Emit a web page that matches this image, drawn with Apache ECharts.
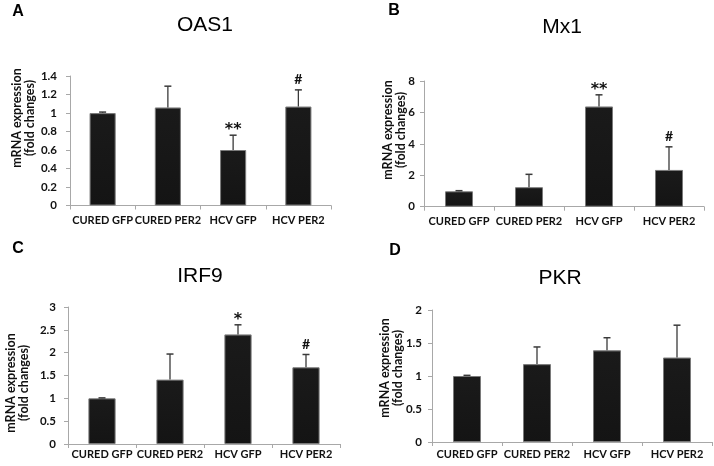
<!DOCTYPE html>
<html>
<head>
<meta charset="utf-8">
<script src="https://cdn.jsdelivr.net/npm/echarts@6/dist/echarts.min.js"></script>
<style>
html,body{margin:0;padding:0;background:#fff;}
#main{width:714px;height:466px;}
</style>
</head>
<body>
<div id="main"></div>
<script>
// ---- data ----
const categories = ['CURED GFP', 'CURED PER2', 'HCV GFP', 'HCV PER2'];

const oas1Mean = [1.00, 1.06, 0.60, 1.07];
const oas1Err  = [0.01, 0.23, 0.16, 0.18];
const oas1Marks = ['', '', '**', '#'];

const mx1Mean = [0.98, 1.24, 6.38, 2.34];
const mx1Err  = [0.04, 0.82, 0.74, 1.47];
const mx1Marks = ['', '', '**', '#'];

const irf9Mean = [1.00, 1.41, 2.40, 1.68];
const irf9Err  = [0.01, 0.56, 0.21, 0.28];
const irf9Marks = ['', '', '*', '#'];

const pkrMean = [1.00, 1.18, 1.39, 1.28];
const pkrErr  = [0.01, 0.26, 0.19, 0.49];
const pkrMarks = ['', '', '', ''];

const titles = ['OAS1', 'Mx1', 'IRF9', 'PKR'];
const letters = ['A', 'B', 'C', 'D'];
const yMax = [1.4, 8, 3, 2];
const yInterval = [0.2, 2, 0.5, 0.5];
const yName1 = 'mRNA expression';
const yName2 = '(fold changes)';

// ---- layout ----
const panels = [
  {mean: oas1Mean, err: oas1Err, marks: oas1Marks, grid: {left: 70, top: 76, width: 261, height: 129.5}, labelMargin: 9, tickMargin: 13,
   title: [205, 25], letter: [18, 12], yname: [17, 30, 118]},
  {mean: mx1Mean, err: mx1Err, marks: mx1Marks, grid: {left: 424, top: 81, width: 280, height: 125.7}, labelMargin: 9, tickMargin: 9,
   title: [562, 27], letter: [394, 11], yname: [388, 401, 130]},
  {mean: irf9Mean, err: irf9Err, marks: irf9Marks, grid: {left: 68, top: 307, width: 272, height: 137}, labelMargin: 5, tickMargin: 12,
   title: [200, 276], letter: [18, 249], yname: [11, 24, 383]},
  {mean: pkrMean, err: pkrErr, marks: pkrMarks, grid: {left: 432, top: 310, width: 280, height: 132}, labelMargin: 7, tickMargin: 10,
   title: [560, 278], letter: [395, 251], yname: [385, 398, 368]}
];

const FONT = 'Lato, "Open Sans", sans-serif';
const axisColor = '#a8a8a8';

const grids = [], xAxes = [], yAxes = [], series = [], graphics = [];

panels.forEach((p, k) => {
  grids.push(Object.assign({containLabel: false}, p.grid));
  xAxes.push({
    type: 'category', gridIndex: k, data: categories,
    axisLine: {show: true, lineStyle: {color: axisColor, width: 1}},
    axisTick: {show: true, length: 4, lineStyle: {color: axisColor}},
    axisLabel: {interval: 0, margin: p.labelMargin, color: '#111', fontFamily: FONT, fontWeight: 'bold', fontSize: 11}
  });
  yAxes.push({
    type: 'value', gridIndex: k, min: 0, max: yMax[k], interval: yInterval[k],
    splitLine: {show: false},
    axisLine: {show: true, lineStyle: {color: axisColor, width: 1}},
    axisTick: {show: true, length: 4, lineStyle: {color: axisColor}},
    axisLabel: {margin: p.tickMargin, color: '#111', fontFamily: FONT, fontWeight: 'bold', fontSize: 11.5}
  });
  series.push({
    type: 'bar', xAxisIndex: k, yAxisIndex: k, data: p.mean, barWidth: '40%',
    itemStyle: {
      color: {type: 'linear', x: 0, y: 0, x2: 0, y2: 1, colorStops: [
        {offset: 0, color: '#555'}, {offset: 0.02, color: '#1a1a1a'}, {offset: 1, color: '#141414'}]},
      borderColor: '#7a7a7a', borderWidth: 1},
    silent: true, animation: false
  });
  const marks = p.marks;
  series.push({
    type: 'custom', xAxisIndex: k, yAxisIndex: k, animation: false, silent: true, z: 5,
    data: p.mean.map((m, i) => [i, m, m + p.err[i]]),
    renderItem: function (params, api) {
      const i = api.value(0);
      const base = api.coord([i, api.value(1)]);
      const top = api.coord([i, api.value(2)]);
      const children = [
        {type: 'line', shape: {x1: base[0], y1: base[1], x2: top[0], y2: top[1]},
         style: {stroke: '#3a3a3a', lineWidth: 1.3}},
        {type: 'line', shape: {x1: top[0] - 3.5, y1: top[1], x2: top[0] + 3.5, y2: top[1]},
         style: {stroke: '#3a3a3a', lineWidth: 1.5}}
      ];
      const mk = marks[params.dataIndex];
      if (mk) {
        const isHash = mk === '#';
        const off = isHash ? 10 : 5;
        const font = isHash ? 'bold 14px ' + FONT : 'bold 16px "DejaVu Sans", sans-serif';
        children.push({type: 'text', x: top[0], y: top[1] - off,
          style: {text: mk, fill: '#111', font: font,
                  align: 'center', verticalAlign: 'middle', textAlign: 'center', textVerticalAlign: 'middle'}});
      }
      return {type: 'group', children: children};
    }
  });
  graphics.push({type: 'text', x: p.title[0], y: p.title[1],
    style: {text: titles[k], fill: '#000', font: '21px "Liberation Sans", Arial, sans-serif',
            align: 'center', verticalAlign: 'middle', textAlign: 'center', textVerticalAlign: 'middle'}});
  graphics.push({type: 'text', x: p.letter[0], y: p.letter[1],
    style: {text: letters[k], fill: '#000', font: 'bold 16px "Liberation Sans", Arial, sans-serif',
            align: 'center', verticalAlign: 'middle', textAlign: 'center', textVerticalAlign: 'middle'}});
  graphics.push({type: 'text', x: p.yname[0], y: p.yname[2], rotation: Math.PI / 2,
    style: {text: yName1, fill: '#111', font: 'bold 12.5px ' + FONT,
            align: 'center', verticalAlign: 'middle', textAlign: 'center', textVerticalAlign: 'middle'}});
  graphics.push({type: 'text', x: p.yname[1], y: p.yname[2], rotation: Math.PI / 2,
    style: {text: yName2, fill: '#111', font: 'bold 12.5px ' + FONT,
            align: 'center', verticalAlign: 'middle', textAlign: 'center', textVerticalAlign: 'middle'}});
});

const chart = echarts.init(document.getElementById('main'), null, {renderer: 'canvas'});
chart.setOption({
  backgroundColor: '#fff',
  animation: false,
  grid: grids, xAxis: xAxes, yAxis: yAxes, series: series,
  graphic: graphics
});
</script>
</body>
</html>
